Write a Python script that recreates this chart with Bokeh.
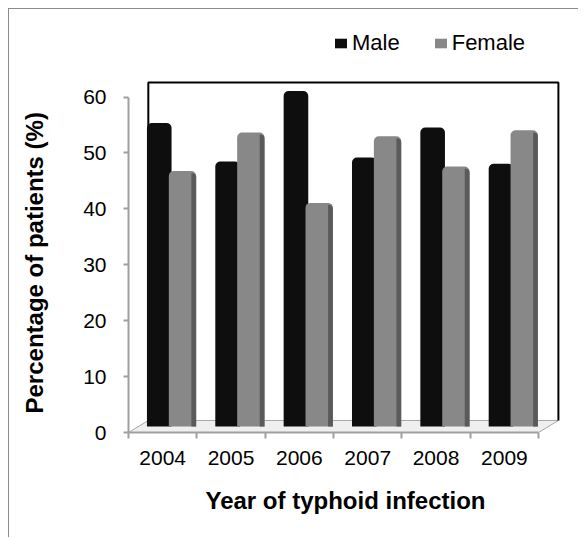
from bokeh.plotting import figure
from bokeh.models import Range1d, FixedTicker, Legend, LegendItem, Title, LinearAxis
from bokeh.embed import file_html
from bokeh.resources import INLINE

# ---- data ----
years = ["2004", "2005", "2006", "2007", "2008", "2009"]
male = [54.3, 47.4, 60.0, 48.1, 53.5, 47.0]
female = [45.7, 52.6, 40.0, 51.9, 46.5, 53.0]
y_ticks = [0, 10, 20, 30, 40, 50, 60]

# ---- 3D-ish geometry (layout constants) ----
DX = 0.29      # depth offset in category units
DY = 2.15      # depth offset in % units
WALL_TOP = 62.6
FONT = "Liberation Sans"

n = len(years)
p = figure(width=570, height=529, output_backend="svg", toolbar_location=None,
           title=None,
           x_range=Range1d(0, 6.35), y_range=Range1d(0, 73.7),
           min_border_left=119, min_border_right=17,
           min_border_top=11, min_border_bottom=106)
p.styles = {"border-left": "1px solid #8c8c8c", "border-top": "1px solid #8c8c8c",
            "margin-left": "8px", "margin-top": "8px"}
p.outline_line_color = None
p.xgrid.visible = False
p.ygrid.visible = False
p.background_fill_color = "white"
p.border_fill_color = "white"

# floor
p.patch([0, n, n + DX, DX], [0, 0, DY, DY], fill_color="#efefef",
        line_color="#a6a6a6", line_width=1)
# back wall
p.line([DX, DX, n + DX, n + DX], [DY, WALL_TOP, WALL_TOP, DY],
       line_color="black", line_width=2)

# bars
base = DY / 2
mx = [i + 0.45 for i in range(n)]
fx = [i + 0.79 for i in range(n)]
fsx = [i + 0.955 for i in range(n)]
mtop = [v + base for v in male]
ftop = [v + base for v in female]

r_male = p.vbar(x=mx, top=mtop, bottom=base, width=0.36,
                fill_color="#0e0e0e", line_color=None, border_radius=(5, 5, 0, 0))
r_fem = p.vbar(x=fx, top=ftop, bottom=base, width=0.40,
               fill_color="#888888", line_color=None, border_radius=(5, 5, 0, 0))
p.vbar(x=fsx, top=[t - 0.4 for t in ftop], bottom=base, width=0.07,
       fill_color="#5a5a5a", line_color=None, border_radius=(0, 4, 0, 0))

# axes
ya = p.yaxis[0]
ya.ticker = FixedTicker(ticks=y_ticks)
ya.bounds = (0, 60)
ya.axis_line_color = "#a0a0a0"
ya.axis_line_width = 2
ya.major_tick_line_color = "#a0a0a0"
ya.major_tick_line_width = 2
ya.major_tick_out = 5
ya.major_tick_in = 0
ya.minor_tick_line_color = None
ya.major_label_text_font = FONT
ya.major_label_text_font_size = "21px"
ya.major_label_text_color = "black"
ya.major_label_standoff = 17

# invisible spacer axis (one hidden tick, no label) to push the title outward
spacer = LinearAxis(ticker=FixedTicker(ticks=[30]), axis_line_color=None,
                    major_tick_line_color=None, minor_tick_line_color=None,
                    major_tick_out=24, major_tick_in=0, minor_tick_out=0,
                    major_label_standoff=0, major_label_overrides={30: ""},
                    major_label_text_color=None)
p.add_layout(spacer, "left")

# y-axis title, centred on the 0-60 span
ytitle = Title(text="Percentage of patients (%)", align="left", offset=19,
               standoff=18, text_font=FONT,
               text_font_style="bold", text_font_size="24px", text_color="black")
p.add_layout(ytitle, "left")

xa = p.xaxis[0]
xa.ticker = FixedTicker(ticks=[i + 0.5 for i in range(n)],
                        minor_ticks=list(range(n + 1)))
xa.bounds = (0, n)
xa.axis_line_color = "#a0a0a0"
xa.axis_line_width = 2
xa.major_tick_line_color = None
xa.major_tick_out = 0
xa.major_tick_in = 0
xa.minor_tick_line_color = "#a0a0a0"
xa.minor_tick_line_width = 2
xa.minor_tick_out = 6
xa.minor_tick_in = 0
xa.major_label_overrides = {i + 0.5: y for i, y in enumerate(years)}
xa.major_label_text_font = FONT
xa.major_label_text_font_size = "21px"
xa.major_label_text_color = "black"
xa.major_label_standoff = 12
xa.axis_label = "Year of typhoid infection"
xa.axis_label_text_font = FONT
xa.axis_label_text_font_style = "bold"
xa.axis_label_text_font_size = "24px"
xa.axis_label_text_color = "black"
xa.axis_label_standoff = 19

legend = Legend(items=[LegendItem(label="Male", renderers=[r_male]),
                       LegendItem(label="Female", renderers=[r_fem])],
                orientation="horizontal", location=(205, 376),
                padding=0, margin=0, spacing=33, label_standoff=4,
                glyph_width=15, glyph_height=12,
                border_line_color=None, background_fill_alpha=0,
                label_text_font=FONT, label_text_font_size="22px",
                label_text_color="black")
p.add_layout(legend)

open("out.html", "w").write(file_html(p, INLINE))
